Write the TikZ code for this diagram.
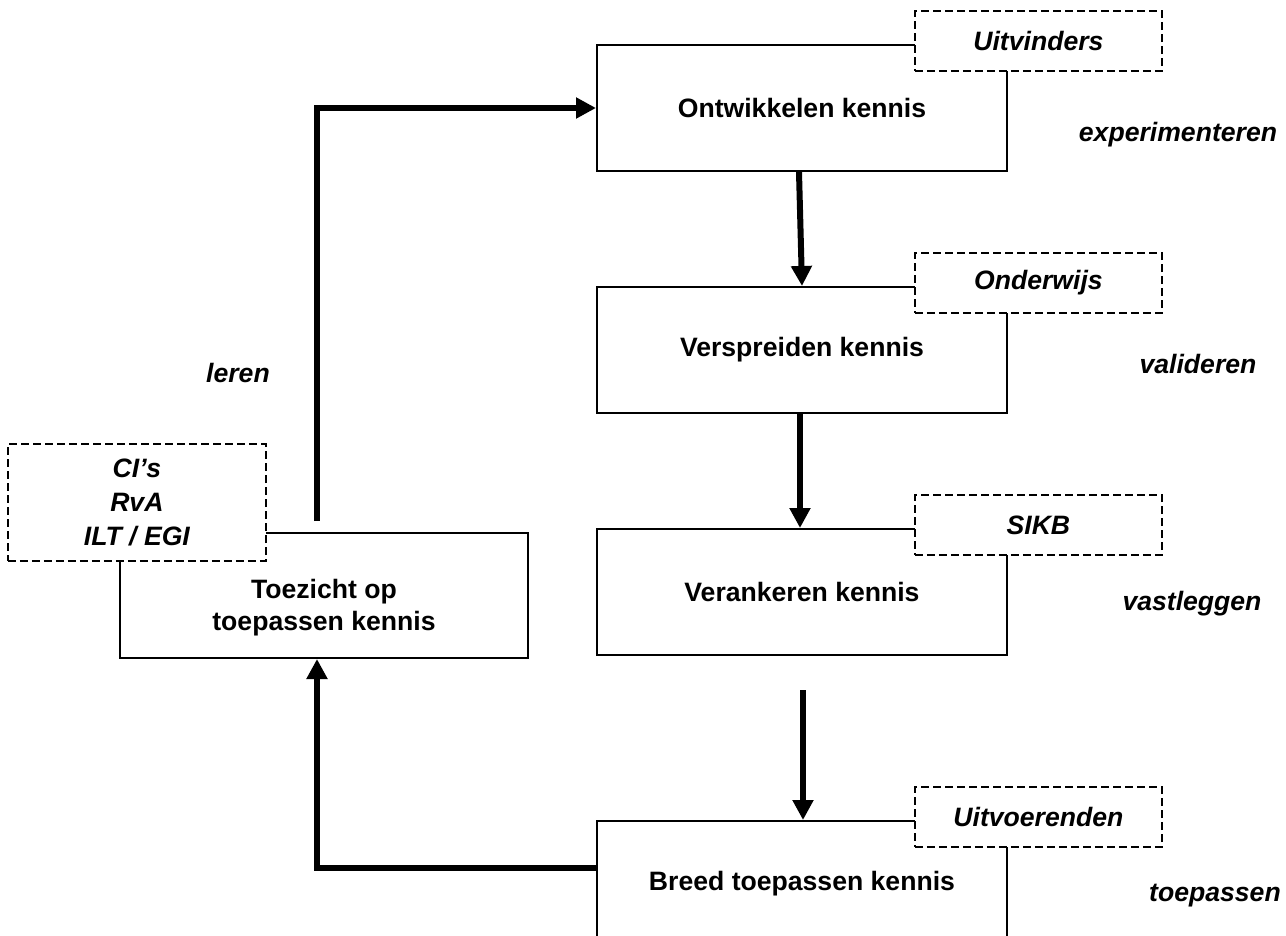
\documentclass[tikz,border=0pt]{standalone}
\usepackage{fontspec}
\setmainfont{Liberation Sans}
\usetikzlibrary{arrows.meta,positioning}
\tikzset{
    mainbox/.style={draw, line width=1pt, minimum width=205pt, minimum height=63pt, align=center, font=\bfseries\fontsize{13.3}{16}\selectfont},
    rolebox/.style={draw, dashed, dash pattern=on 4pt off 2pt, line width=0.9pt, fill=white, align=center, font=\bfseries\itshape\fontsize{13.3}{17}\selectfont},
    phase/.style={font=\bfseries\itshape\fontsize{13.3}{16}\selectfont},
    flow/.style={-{Triangle[length=10pt, width=10pt]}, line width=3pt}
}

\begin{document}
\begin{tikzpicture}[x=0.5pt, y=-0.5pt, node distance=57pt]
    \clip (0,0) rectangle (1286,936);

    % kolom met de vier stappen
    \node[mainbox] (ont) at (802,108) {Ontwikkelen kennis};
    \node[mainbox, below=of ont] (vers) {Verspreiden kennis};
    \node[mainbox, below=of vers] (veran) {Verankeren kennis};
    \node[mainbox, below=82pt of veran] (breed) {Breed toepassen kennis};
    \node[mainbox, minimum width=204pt, minimum height=62.5pt] (toez) at (324,595.5) {\rule{0pt}{1.6em}Toezicht op\\toepassen kennis};

    % actoren (gestippeld)
    \node[rolebox, minimum width=123.5pt, minimum height=30pt, anchor=south west] (uitvi) at ([xshift=-47pt, yshift=-14pt]ont.north east) {Uitvinders};
    \node[rolebox, minimum width=123.5pt, minimum height=30pt, anchor=south west] (onderw) at ([xshift=-47pt, yshift=-14pt]vers.north east) {Onderwijs};
    \node[rolebox, minimum width=123.5pt, minimum height=30pt, anchor=south west] (sikb) at ([xshift=-47pt, yshift=-14pt]veran.north east) {SIKB};
    \node[rolebox, minimum width=123.5pt, minimum height=30pt, anchor=south west] (uitvo) at ([xshift=-47pt, yshift=-14pt]breed.north east) {Uitvoerenden};
    \node[rolebox, minimum width=129pt, minimum height=58.5pt, anchor=south west] (ci) at ([xshift=-56pt, yshift=-15pt]toez.north west) {CI’s\\RvA\\ILT / EGI};

    % fasen
    \node[phase] (exp) at (1178,135) {experimenteren};
    \node[phase] (val) at (1198,364) {valideren};
    \node[phase] (vast) at (1192,604) {vastleggen};
    \node[phase] (toep) at (1215,896) {toepassen};
    \node[phase] (ler) at (238,373) {leren};

    \draw[flow] ([xshift=-1.5pt]ont.south) -- (vers.north);
    \draw[flow] ([xshift=-1pt]vers.south) -- ([xshift=-1pt]veran.north);
    \draw[flow] ([xshift=0.5pt, yshift=-17pt]veran.south) -- ([xshift=0.5pt]breed.north);
    \draw[flow] ([yshift=8pt]breed.west) -| ([xshift=-3.5pt]toez.south);
    \draw[flow] ([xshift=-3.5pt, yshift=5.5pt]toez.north) |- (ont.west);
\end{tikzpicture}
\end{document}
